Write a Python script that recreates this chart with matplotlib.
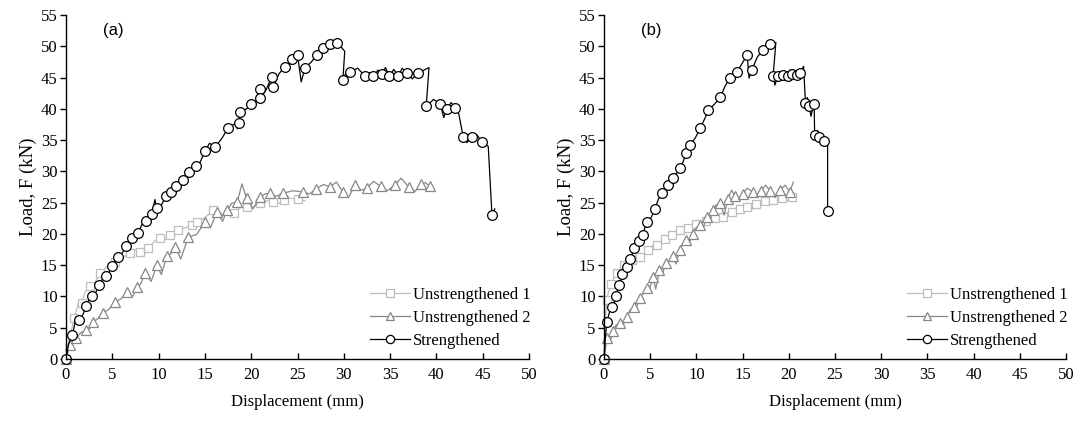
import matplotlib
matplotlib.use("Agg")
import matplotlib.pyplot as plt
from matplotlib.lines import Line2D

plt.rcParams['font.family'] = ['Liberation Serif', 'DejaVu Serif']

# ---------------- Panel (a) ----------------
# Strengthened: backbone (marker) points and in-between jitter points
a_str_bx = [0.0, 0.7, 1.4, 2.2, 2.8, 3.6, 4.3, 5.0, 5.6, 6.5, 7.1, 7.8, 8.6, 9.3, 9.8, 10.8, 11.3, 11.9,
            12.6, 13.3, 14.0, 15.0, 16.1, 17.5, 18.7, 18.8, 20.0, 20.9, 21.0, 22.2, 22.4, 23.6, 24.4, 25.0,
            25.8, 27.1, 27.8, 28.5, 29.3, 29.9, 30.7, 32.3, 33.2, 34.1, 34.9, 35.9, 36.8, 38.0, 38.9, 40.4,
            41.1, 42.0, 42.9, 43.8, 44.9, 46.0]
a_str_by = [0.0, 3.8, 6.2, 8.5, 10.1, 11.8, 13.3, 14.9, 16.3, 18.1, 19.3, 20.2, 22.1, 23.2, 24.1, 26.1, 26.7, 27.7,
            28.6, 29.9, 30.9, 33.2, 33.9, 36.9, 37.7, 39.5, 40.8, 43.1, 41.7, 45.1, 43.5, 46.7, 47.9, 48.6,
            46.5, 48.6, 49.7, 50.4, 50.6, 44.6, 45.9, 45.2, 45.2, 45.6, 45.2, 45.2, 45.7, 45.7, 40.4, 40.8,
            40.0, 40.2, 35.5, 35.5, 34.7, 23.0]
a_str_jx = [0.3, 1.1, 1.8, 2.5, 3.2, 4.0, 4.6, 5.3, 6.1, 6.8, 7.5, 8.2, 9.0, 9.6, 10.3, 11.1, 11.6, 12.3,
            12.9, 13.7, 14.5, 15.5, 16.8, 18.1, 18.5, 19.5, 20.4, 21.0, 21.6, 22.3, 23.0, 24.1, 24.7, 25.4,
            26.5, 27.5, 28.2, 28.9, 30.1, 30.3, 31.5, 32.8, 33.7, 34.5, 35.4, 36.3, 37.4, 39.2, 39.7, 40.8,
            41.6, 42.4, 43.3, 44.4, 45.6, 46.3]
a_str_jy = [2.5, 6.8, 7.0, 9.6, 10.6, 13.0, 13.8, 15.9, 17.0, 19.0, 19.5, 21.5, 22.4, 25.5, 24.6, 26.9, 27.0, 28.5,
            28.9, 30.8, 31.5, 34.5, 35.2, 37.5, 36.8, 40.0, 40.6, 43.6, 43.0, 44.4, 45.6, 46.9, 47.4, 44.3,
            47.5, 48.2, 49.2, 49.8, 49.2, 46.0, 46.5, 45.8, 46.2, 46.6, 46.3, 46.5, 44.8, 46.6, 41.5, 38.6,
            41.0, 39.3, 34.6, 35.8, 34.0, 24.0]

# Unstrengthened 1
a_u1_bx = [0.0, 0.9, 1.7, 2.6, 3.7, 5.3, 6.9, 8.0, 8.9, 10.2, 11.2, 12.1, 13.6, 14.1, 15.9, 18.1, 19.5,
           21.0, 22.4, 23.5, 25.0]
a_u1_by = [0.0, 6.5, 9.0, 11.6, 13.7, 15.5, 16.9, 17.1, 17.7, 19.3, 19.8, 20.6, 21.4, 21.9, 23.8, 23.3, 24.3,
           24.9, 25.1, 25.4, 25.6]
a_u1_jx = [0.4, 1.3, 2.1, 3.1, 4.5, 6.1, 7.5, 8.5, 9.6, 10.7, 11.7, 12.9, 13.9, 15.0, 17.0, 18.8, 20.2,
           21.7, 23.0, 24.2, 25.8]
a_u1_jy = [3.5, 8.8, 10.8, 12.3, 14.9, 16.2, 17.5, 16.8, 18.9, 19.1, 20.4, 21.0, 21.0, 22.6, 23.1, 24.2, 24.3,
           25.3, 24.9, 25.7, 25.3]

# Unstrengthened 2
a_u2_bx = [0.0, 0.4, 1.1, 2.2, 2.9, 4.0, 5.3, 6.6, 7.7, 8.5, 9.8, 10.9, 11.8, 13.2, 15.0, 16.3, 17.4,
           18.5, 19.5, 21.0, 22.0, 23.4, 25.6, 27.0, 28.5, 29.9, 31.2, 32.5, 34.0, 35.5, 37.0, 38.3, 39.3]
a_u2_by = [0.0, 2.2, 3.4, 4.6, 5.9, 7.4, 9.1, 10.7, 11.5, 13.7, 15.0, 16.5, 17.9, 19.5, 21.9, 23.5, 23.8,
           25.1, 25.7, 25.9, 26.5, 26.5, 26.7, 27.2, 27.5, 26.7, 27.8, 27.3, 27.6, 27.8, 27.5, 27.9, 27.6]
a_u2_jx = [0.2, 0.7, 1.6, 2.6, 3.4, 4.6, 5.9, 7.2, 8.1, 9.2, 10.3, 11.3, 12.4, 14.1, 15.6, 16.9, 17.9,
           19.0, 20.2, 21.5, 22.7, 24.5, 26.3, 27.8, 29.2, 30.5, 31.9, 33.2, 34.7, 36.2, 37.7, 38.8, 39.6]
a_u2_jy = [1.0, 2.5, 4.2, 4.9, 6.4, 7.9, 9.6, 10.0, 12.1, 12.4, 13.5, 16.8, 16.0, 19.9, 21.0, 22.0, 24.9,
           28.0, 24.0, 26.4, 26.0, 26.9, 26.4, 27.9, 28.3, 25.8, 27.0, 28.4, 26.9, 28.9, 26.8, 28.2, 27.2]

# ---------------- Panel (b) ----------------
b_str_bx = [0.0, 0.3, 0.9, 1.3, 1.6, 2.0, 2.5, 2.8, 3.2, 3.8, 4.2, 4.7, 5.5, 6.3, 6.9, 7.5, 8.2, 8.9, 9.3,
            10.4, 11.3, 12.6, 13.6, 14.4, 15.5, 16.0, 17.2, 18.0, 18.3, 18.8, 19.4, 19.9, 20.4, 20.9, 21.2,
            21.8, 22.2, 22.7, 22.8, 23.3, 23.8, 24.2]
b_str_by = [0.0, 5.9, 8.3, 10.1, 11.8, 13.6, 14.7, 16.0, 17.7, 18.9, 19.8, 21.9, 24.0, 26.5, 27.8, 28.9, 30.5,
            32.9, 34.2, 36.9, 39.8, 41.9, 44.9, 45.9, 48.6, 46.2, 49.4, 50.4, 45.2, 45.2, 45.4, 45.2, 45.6,
            45.4, 45.7, 41.0, 40.5, 40.8, 35.8, 35.5, 34.8, 23.6]
b_str_jx = [0.1, 0.6, 1.1, 1.5, 1.8, 2.3, 2.6, 3.0, 3.5, 4.0, 4.5, 5.1, 5.9, 6.6, 7.2, 7.9, 8.5, 9.1, 9.9,
            10.9, 12.0, 13.1, 14.0, 15.0, 15.7, 16.6, 17.6, 18.6, 18.5, 19.1, 19.6, 20.1, 20.6, 21.1, 21.6,
            22.0, 22.4, 22.75, 23.1, 23.6, 24.2]
b_str_jy = [2.5, 7.5, 9.0, 11.3, 12.4, 14.5, 15.1, 16.5, 18.5, 19.0, 21.4, 22.6, 25.6, 26.9, 28.7, 29.8, 31.3,
            33.3, 35.4, 38.4, 40.8, 43.6, 44.7, 47.4, 44.9, 48.3, 49.8, 50.6, 43.8, 46.0, 45.9, 46.2, 45.9,
            46.3, 46.8, 41.8, 38.8, 40.0, 36.5, 35.0, 34.6]

b_u1_bx = [0.0, 0.3, 0.8, 1.4, 2.2, 3.0, 3.9, 4.8, 5.7, 6.6, 7.4, 8.2, 9.1, 10.0, 11.0, 12.0, 12.9, 13.8,
           14.7, 15.5, 16.5, 17.4, 18.3, 19.3, 20.3]
b_u1_by = [0.0, 9.5, 12.0, 13.7, 15.0, 15.8, 16.3, 17.5, 18.3, 19.2, 19.8, 20.6, 21.0, 21.6, 22.0, 22.6, 22.7,
           23.5, 24.0, 24.3, 24.8, 25.2, 25.4, 25.7, 25.9]
b_u1_jx = [0.1, 0.5, 1.1, 1.8, 2.6, 3.4, 4.3, 5.2, 6.1, 7.0, 7.8, 8.6, 9.5, 10.5, 11.5, 12.4, 13.3, 14.2,
           15.1, 16.0, 16.9, 17.8, 18.8, 19.8, 20.5]
b_u1_jy = [4.5, 10.8, 13.0, 14.4, 15.6, 16.5, 16.7, 18.1, 18.6, 19.7, 20.3, 20.4, 21.4, 21.4, 22.5, 22.1, 23.4,
           23.3, 24.3, 23.9, 25.1, 24.8, 25.8, 25.3, 26.5]

b_u2_bx = [0.0, 0.3, 1.0, 1.7, 2.5, 3.2, 3.9, 4.6, 5.3, 6.0, 6.7, 7.5, 8.2, 8.9, 9.6, 10.4, 11.1, 11.8,
           12.6, 13.4, 14.2, 15.0, 16.1, 17.0, 18.0, 19.1, 20.1]
b_u2_by = [0.0, 3.3, 4.5, 5.8, 6.7, 8.3, 9.8, 11.4, 13.1, 14.2, 15.4, 16.5, 17.4, 19.0, 20.0, 21.5, 22.7, 23.8,
           24.9, 25.6, 26.0, 26.4, 26.7, 26.9, 26.8, 27.0, 26.7]
b_u2_jx = [0.15, 0.6, 1.3, 2.1, 2.8, 3.5, 4.2, 4.9, 5.6, 6.3, 7.1, 7.8, 8.5, 9.2, 10.0, 10.7, 11.4, 12.1,
           13.0, 13.8, 14.6, 15.5, 16.5, 17.5, 18.5, 19.6, 20.5]
b_u2_jy = [1.5, 2.5, 5.4, 5.5, 7.8, 8.2, 10.4, 11.0, 11.2, 13.5, 15.8, 15.2, 18.4, 18.4, 21.0, 20.8, 21.8, 24.6,
           23.0, 27.0, 25.7, 27.3, 25.9, 27.8, 25.8, 27.8, 28.3]

labels = ["Unstrengthened 1", "Unstrengthened 2", "Strengthened"]
x_ticks = list(range(0, 51, 5))
y_ticks = list(range(0, 56, 5))


def interleave(b, j):
    out = []
    for i, v in enumerate(b):
        out.append(v)
        if i < len(j):
            out.append(j[i])
    return out


fig = plt.figure(figsize=(10.79, 4.26), dpi=100)
ax1 = fig.add_axes([66 / 1079, 1 - 359 / 426, (529 - 66) / 1079, (359 - 15) / 426])
ax2 = fig.add_axes([604 / 1079, 1 - 359 / 426, (1066 - 604) / 1079, (359 - 15) / 426])

styles = [dict(color='#bdbdbd', marker='s', ms=6.0),
          dict(color='#878787', marker='^', ms=6.5),
          dict(color='black', marker='o', ms=7.0)]

panels = [
    (ax1, "(a)", [(a_u1_bx, a_u1_by, a_u1_jx, a_u1_jy),
                  (a_u2_bx, a_u2_by, a_u2_jx, a_u2_jy),
                  (a_str_bx, a_str_by, a_str_jx, a_str_jy)]),
    (ax2, "(b)", [(b_u1_bx, b_u1_by, b_u1_jx, b_u1_jy),
                  (b_u2_bx, b_u2_by, b_u2_jx, b_u2_jy),
                  (b_str_bx, b_str_by, b_str_jx, b_str_jy)]),
]

for ax, tag, series in panels:
    handles = []
    for (bx, by, jx, jy), st, lab in zip(series, styles, labels):
        xs = interleave(bx, jx)
        ys = interleave(by, jy)
        ax.plot(xs, ys, color=st['color'], lw=0.9, marker=st['marker'], ms=st['ms'],
                mfc='white', mec=st['color'], mew=0.9, markevery=2, clip_on=False)
        handles.append(Line2D([], [], color=st['color'], lw=0.9, marker=st['marker'],
                              ms=st['ms'] * 0.85, mfc='white', mec=st['color'], mew=0.9, label=lab))
    ax.set_xlim(0, 50)
    ax.set_ylim(0, 55)
    ax.set_xticks(x_ticks)
    ax.set_yticks(y_ticks)
    for s in ['top', 'right']:
        ax.spines[s].set_visible(False)
    for s in ['left', 'bottom']:
        ax.spines[s].set_linewidth(1.0)
    ax.tick_params(axis='x', direction='in', length=4, width=1.0, labelsize=12, pad=6)
    ax.tick_params(axis='y', direction='out', length=4, width=1.0, labelsize=12, pad=2)
    ax.set_xlabel("Displacement (mm)", fontsize=12, labelpad=8)
    ax.set_ylabel("Load, F (kN)", fontsize=13.5, labelpad=3)
    ax.text(0.08, 0.955, tag, transform=ax.transAxes, fontsize=12,
            family=['Liberation Sans', 'DejaVu Sans'], ha='left', va='center')
    ax.legend(handles=handles, loc='lower right', bbox_to_anchor=(1.025, 0.0), frameon=False,
              fontsize=12, handlelength=2.4, handletextpad=0.15, labelspacing=0.42,
              numpoints=1, borderaxespad=0.2)

fig.savefig("out.png", dpi=100)
